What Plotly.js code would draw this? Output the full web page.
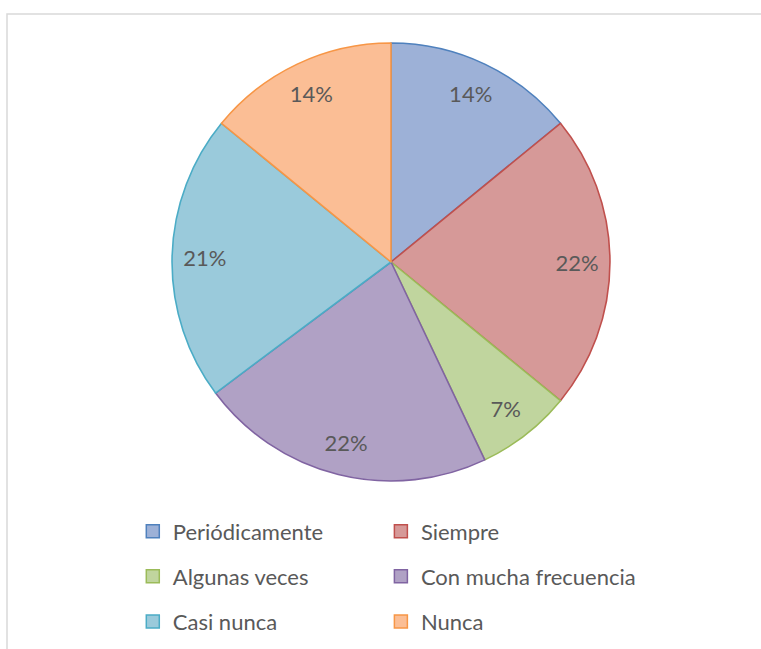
<!DOCTYPE html>
<html>
<head>
<meta charset="utf-8">
<script src="https://cdn.plot.ly/plotly-3.0.1.min.js"></script>
<style>
html,body{margin:0;padding:0;background:#fff;}
#chart{width:761px;height:649px;}
</style>
</head>
<body>
<div id="chart"></div>
<script>
// Data
const categories = ['Periódicamente', 'Siempre', 'Algunas veces', 'Con mucha frecuencia', 'Casi nunca', 'Nunca'];
const values = [20, 31, 10, 31, 30, 20];
const fillColors = ['#9DB1D7', '#D69998', '#C0D59E', '#B0A1C5', '#9ACADB', '#FBBE95'];
const lineColors = ['#4F81BD', '#C0504D', '#9BBB59', '#8064A2', '#4BACC6', '#F79646'];
const legendColumn = [1, 2, 1, 2, 1, 2];

const FONT = 'Lato, "Open Sans", sans-serif';
const TXT = '#595959';
const dom = {x: [0.226, 0.8016], y: [0.2589, 0.9337]};

const traces = [];
// visible pie
traces.push({
  type: 'pie',
  labels: categories,
  values: values,
  sort: false,
  direction: 'clockwise',
  rotation: 0,
  domain: dom,
  marker: {colors: fillColors, line: {color: lineColors, width: 1.6}},
  textinfo: 'none',
  hoverinfo: 'label+percent',
  showlegend: false
});
// transparent ring used only to place percentage labels near the rim
traces.push({
  type: 'pie',
  labels: categories,
  values: values,
  sort: false,
  direction: 'clockwise',
  rotation: 0,
  domain: dom,
  hole: 0.7,
  marker: {colors: categories.map(() => 'rgba(0,0,0,0)'), line: {width: 0}},
  texttemplate: '%{percent:.0%}',
  textposition: 'inside',
  insidetextorientation: 'horizontal',
  textfont: {family: FONT, size: 22, color: TXT},
  hoverinfo: 'skip',
  showlegend: false
});
// legend entries
categories.forEach((c, i) => {
  traces.push({
    type: 'scatter',
    mode: 'markers',
    x: [null], y: [null],
    name: c,
    legend: legendColumn[i] === 1 ? 'legend' : 'legend2',
    legendgroup: 'g' + i,
    marker: {symbol: 'square', size: 13, color: fillColors[i], line: {color: lineColors[i], width: 1.5}},
    hoverinfo: 'skip',
    showlegend: true
  });
});

const legendBase = {
  orientation: 'v',
  yanchor: 'top',
  y: 0.2135,
  tracegroupgap: 13.5,
  font: {family: FONT, size: 22, color: TXT},
  bgcolor: 'rgba(0,0,0,0)',
  itemclick: false,
  itemdoubleclick: false
};

const layout = {
  width: 761,
  height: 649,
  margin: {l: 0, r: 0, t: 0, b: 0},
  paper_bgcolor: '#fff',
  plot_bgcolor: '#fff',
  showlegend: true,
  xaxis: {visible: false},
  yaxis: {visible: false},
  legend: Object.assign({}, legendBase, {x: 0.1745, xanchor: 'left'}),
  legend2: Object.assign({}, legendBase, {x: 0.5005, xanchor: 'left'}),
  shapes: [{
    type: 'rect', xref: 'paper', yref: 'paper',
    x0: 7 / 761, x1: 1.02, y0: -0.02, y1: 1 - 14 / 649,
    line: {color: '#D9D9D9', width: 1.5},
    fillcolor: 'rgba(0,0,0,0)',
    layer: 'below'
  }]
};

Plotly.newPlot('chart', traces, layout, {displayModeBar: false, staticPlot: false});
</script>
</body>
</html>
